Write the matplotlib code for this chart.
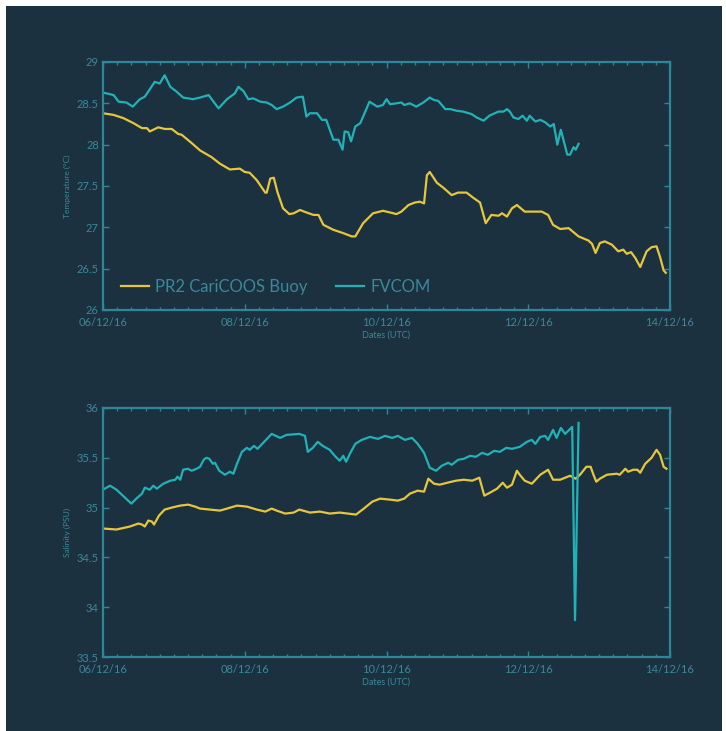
import matplotlib
matplotlib.use("Agg")
import matplotlib.pyplot as plt
from matplotlib.patches import Rectangle
from matplotlib.ticker import MultipleLocator, FuncFormatter

# Dates are given as day of December 2016 (fractional days, UTC)
temp_fvcom_day = [6.00, 6.15, 6.22, 6.33, 6.42, 6.52, 6.59, 6.73, 6.80, 6.87, 6.95, 7.04, 7.13,
                  7.27, 7.37, 7.49, 7.56, 7.63, 7.75, 7.86, 7.91, 7.98, 8.05, 8.12, 8.22, 8.31,
                  8.38, 8.45, 8.54, 8.64, 8.73, 8.82, 8.87, 8.92, 9.02, 9.09, 9.15, 9.25, 9.32,
                  9.38, 9.41, 9.46, 9.50, 9.56, 9.63, 9.76, 9.87, 9.95, 10.00, 10.05, 10.14,
                  10.21, 10.25, 10.33, 10.42, 10.52, 10.61, 10.67, 10.73, 10.83, 10.90, 10.99,
                  11.08, 11.20, 11.27, 11.37, 11.45, 11.58, 11.65, 11.70, 11.74, 11.79, 11.86,
                  11.92, 11.98, 12.02, 12.10, 12.17, 12.24, 12.31, 12.36, 12.41, 12.46, 12.55,
                  12.59, 12.64, 12.67, 12.71]
temp_fvcom = [28.63, 28.60, 28.52, 28.51, 28.46, 28.55, 28.58, 28.76, 28.74, 28.84, 28.70, 28.64,
              28.57, 28.55, 28.57, 28.60, 28.52, 28.44, 28.55, 28.62, 28.70, 28.65, 28.55, 28.56,
              28.52, 28.51, 28.48, 28.43, 28.46, 28.51, 28.57, 28.58, 28.34, 28.38, 28.38, 28.30,
              28.30, 28.06, 28.06, 27.94, 28.16, 28.15, 28.04, 28.22, 28.26, 28.52, 28.46, 28.48,
              28.55, 28.49, 28.50, 28.51, 28.48, 28.50, 28.46, 28.51, 28.57, 28.54, 28.53, 28.43,
              28.43, 28.41, 28.40, 28.37, 28.33, 28.29, 28.35, 28.40, 28.40, 28.43, 28.40, 28.33,
              28.31, 28.35, 28.29, 28.35, 28.28, 28.30, 28.27, 28.22, 28.25, 28.00, 28.18, 27.88,
              27.88, 27.97, 27.94, 28.01]

temp_buoy_day = [6.00, 6.15, 6.29, 6.43, 6.55, 6.62, 6.66, 6.78, 6.87, 6.97, 7.06, 7.11, 7.25,
                 7.37, 7.53, 7.65, 7.79, 7.93, 8.00, 8.07, 8.17, 8.29, 8.31, 8.36, 8.41, 8.46,
                 8.54, 8.63, 8.69, 8.78, 8.87, 8.97, 9.04, 9.11, 9.25, 9.39, 9.51, 9.56, 9.67,
                 9.81, 9.95, 10.05, 10.14, 10.21, 10.31, 10.40, 10.47, 10.53, 10.57, 10.61,
                 10.71, 10.80, 10.92, 11.01, 11.13, 11.22, 11.32, 11.40, 11.48, 11.58, 11.63,
                 11.70, 11.77, 11.84, 11.95, 12.07, 12.19, 12.28, 12.35, 12.45, 12.57, 12.64,
                 12.71, 12.85, 12.90, 12.95, 13.01, 13.08, 13.18, 13.27, 13.34, 13.39, 13.45,
                 13.51, 13.58, 13.67, 13.74, 13.81, 13.86, 13.91, 13.94]
temp_buoy = [28.38, 28.36, 28.32, 28.26, 28.20, 28.20, 28.16, 28.21, 28.19, 28.19, 28.13, 28.12,
             28.02, 27.93, 27.85, 27.77, 27.70, 27.71, 27.67, 27.66, 27.57, 27.42, 27.42, 27.59,
             27.60, 27.43, 27.23, 27.16, 27.17, 27.21, 27.18, 27.15, 27.15, 27.03, 26.97, 26.93,
             26.89, 26.89, 27.05, 27.17, 27.20, 27.18, 27.16, 27.19, 27.27, 27.30, 27.31, 27.29,
             27.63, 27.67, 27.54, 27.48, 27.39, 27.42, 27.42, 27.36, 27.30, 27.05, 27.15, 27.14,
             27.17, 27.13, 27.23, 27.27, 27.19, 27.19, 27.19, 27.15, 27.03, 26.98, 26.99, 26.94,
             26.89, 26.84, 26.80, 26.69, 26.81, 26.83, 26.79, 26.71, 26.73, 26.68, 26.70, 26.63,
             26.52, 26.71, 26.76, 26.77, 26.64, 26.48, 26.45]

sal_fvcom_day = [6.00, 6.10, 6.19, 6.31, 6.40, 6.47, 6.55, 6.59, 6.66, 6.71, 6.76, 6.85, 6.95,
                 7.02, 7.05, 7.09, 7.13, 7.20, 7.25, 7.32, 7.37, 7.42, 7.46, 7.50, 7.55, 7.58,
                 7.64, 7.72, 7.79, 7.84, 7.89, 7.96, 8.03, 8.07, 8.13, 8.18, 8.26, 8.38, 8.50,
                 8.59, 8.77, 8.85, 8.89, 8.96, 9.03, 9.10, 9.20, 9.27, 9.34, 9.39, 9.43, 9.49,
                 9.56, 9.65, 9.77, 9.88, 9.98, 10.08, 10.16, 10.26, 10.36, 10.44, 10.53, 10.61,
                 10.70, 10.78, 10.87, 10.92, 11.01, 11.09, 11.18, 11.26, 11.35, 11.43, 11.52,
                 11.60, 11.69, 11.77, 11.88, 11.98, 12.05, 12.10, 12.17, 12.24, 12.28, 12.35,
                 12.40, 12.46, 12.52, 12.62, 12.66, 12.71]
sal_fvcom = [35.18, 35.22, 35.18, 35.10, 35.04, 35.09, 35.14, 35.20, 35.18, 35.22, 35.19, 35.24,
             35.27, 35.28, 35.31, 35.28, 35.38, 35.39, 35.37, 35.39, 35.41, 35.48, 35.50, 35.49,
             35.44, 35.45, 35.37, 35.33, 35.36, 35.34, 35.44, 35.56, 35.60, 35.58, 35.62, 35.59,
             35.65, 35.74, 35.70, 35.73, 35.74, 35.72, 35.56, 35.60, 35.66, 35.62, 35.58, 35.52,
             35.47, 35.52, 35.46, 35.55, 35.64, 35.68, 35.71, 35.69, 35.72, 35.70, 35.72, 35.68,
             35.70, 35.64, 35.55, 35.40, 35.37, 35.42, 35.45, 35.43, 35.48, 35.49, 35.52, 35.51,
             35.55, 35.53, 35.57, 35.56, 35.60, 35.59, 35.61, 35.66, 35.68, 35.64, 35.71, 35.72,
             35.68, 35.78, 35.70, 35.80, 35.74, 35.81, 33.87, 35.85]

sal_buoy_day = [6.00, 6.19, 6.38, 6.50, 6.55, 6.59, 6.64, 6.69, 6.72, 6.79, 6.87, 6.97, 7.09,
                7.20, 7.30, 7.37, 7.51, 7.65, 7.75, 7.89, 8.03, 8.17, 8.29, 8.38, 8.45, 8.57,
                8.69, 8.77, 8.92, 9.06, 9.20, 9.34, 9.57, 9.68, 9.80, 9.91, 10.05, 10.16, 10.25,
                10.33, 10.44, 10.53, 10.59, 10.67, 10.75, 10.86, 10.98, 11.09, 11.21, 11.31,
                11.38, 11.46, 11.56, 11.64, 11.70, 11.77, 11.84, 11.88, 11.95, 12.05, 12.17,
                12.28, 12.35, 12.45, 12.59, 12.67, 12.73, 12.82, 12.88, 12.92, 12.96, 13.01,
                13.11, 13.25, 13.29, 13.37, 13.41, 13.48, 13.54, 13.58, 13.65, 13.74, 13.81,
                13.86, 13.91, 13.95]
sal_buoy = [34.79, 34.78, 34.81, 34.84, 34.83, 34.81, 34.87, 34.86, 34.83, 34.92, 34.98, 35.00,
            35.02, 35.03, 35.01, 34.99, 34.98, 34.97, 34.99, 35.02, 35.01, 34.98, 34.96, 34.99,
            34.97, 34.94, 34.95, 34.98, 34.95, 34.96, 34.94, 34.95, 34.93, 34.99, 35.06, 35.09,
            35.08, 35.07, 35.09, 35.14, 35.17, 35.16, 35.29, 35.24, 35.23, 35.25, 35.27, 35.28,
            35.27, 35.30, 35.12, 35.15, 35.19, 35.25, 35.20, 35.23, 35.37, 35.33, 35.27, 35.24,
            35.33, 35.38, 35.28, 35.28, 35.32, 35.29, 35.33, 35.41, 35.41, 35.33, 35.26, 35.29,
            35.33, 35.34, 35.33, 35.39, 35.36, 35.38, 35.38, 35.35, 35.44, 35.50, 35.58, 35.53,
            35.41, 35.39]

series_names = ["PR2 CariCOOS Buoy", "FVCOM"]

BG = "#1c3140"
AXC = "#2e8796"
TXT = "#3a8899"
YELLOW = "#e6c63c"
CYAN = "#21b2b6"

plt.rcParams["font.family"] = ["Lato", "DejaVu Sans"]

fig = plt.figure(figsize=(7.26, 7.31), dpi=100)
fig.patch.set_facecolor("white")
fig.patches.append(Rectangle((6 / 726, 0), 716 / 726, 725 / 731, transform=fig.transFigure,
                             facecolor=BG, edgecolor="none", zorder=-10))

ax1 = fig.add_axes([103 / 726, 1 - 310 / 731, 567 / 726, 248 / 731])
ax2 = fig.add_axes([103 / 726, 1 - 657 / 731, 567 / 726, 249 / 731])


def style_axis(ax, ylim, ystep, ylabel):
    ax.set_facecolor(BG)
    for s in ax.spines.values():
        s.set_color(AXC)
        s.set_linewidth(1.6)
    ax.set_xlim(6, 14)
    ax.set_ylim(*ylim)
    ax.xaxis.set_major_locator(MultipleLocator(2))
    ax.xaxis.set_minor_locator(MultipleLocator(0.2))
    ax.xaxis.set_major_formatter(FuncFormatter(lambda v, p: f"{int(round(v)):02d}/12/16"))
    ax.yaxis.set_major_locator(MultipleLocator(ystep))
    ax.yaxis.set_major_formatter(FuncFormatter(lambda v, p: f"{v:g}"))
    ax.tick_params(which="both", direction="in", top=True, right=True, color=AXC,
                   labelcolor=TXT, labelsize=8, width=1.0)
    ax.tick_params(which="major", length=4.5)
    ax.tick_params(axis="x", which="major", pad=5)
    ax.tick_params(axis="y", which="major", pad=3)
    ax.tick_params(which="minor", length=2.2)
    ax.set_xlabel("Dates (UTC)", color=TXT, fontsize=6.5, labelpad=2)
    ax.set_ylabel(ylabel, color=TXT, fontsize=6, labelpad=4)


# temperature panel
ax1.plot(temp_buoy_day, temp_buoy, color=YELLOW, lw=1.6, label=series_names[0])
ax1.plot(temp_fvcom_day, temp_fvcom, color=CYAN, lw=1.6, label=series_names[1])
style_axis(ax1, (26, 29), 0.5, "Temperature (°C)")
leg = ax1.legend(loc="lower left", bbox_to_anchor=(0.005, 0.0), ncol=2, frameon=False,
                 fontsize=12, handlelength=1.7, columnspacing=1.7, handletextpad=0.35)
for t in leg.get_texts():
    t.set_color(TXT)

# salinity panel
ax2.plot(sal_buoy_day, sal_buoy, color=YELLOW, lw=1.6)
ax2.plot(sal_fvcom_day, sal_fvcom, color=CYAN, lw=1.6)
style_axis(ax2, (33.5, 36), 0.5, "Salinity (PSU)")

fig.savefig("out.png", dpi=100, facecolor=fig.get_facecolor())
